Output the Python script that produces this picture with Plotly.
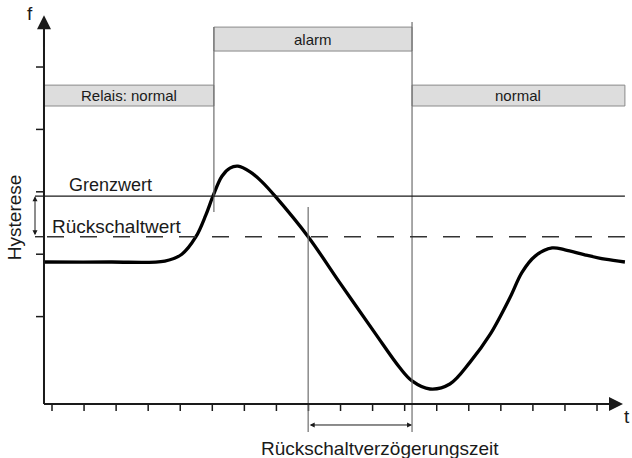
import plotly.graph_objects as go

# ---- data (time units t, signal units f) ----
time_ticks = list(range(0, 18))
f_ticks = [1, 2, 3, 4, 5]

t_curve = [-0.25, 1.81, 3.52, 4.05, 4.49, 4.80, 5.02, 5.30, 5.55, 5.80, 6.18, 6.55, 6.96,
           7.99, 8.98, 10.07, 10.85, 11.23, 11.79, 12.41, 13.04, 13.66, 14.29, 14.66,
           15.07, 15.60, 16.00, 16.62, 17.25, 17.87]
f_curve = [1.875, 1.875, 1.89, 2.00, 2.28, 2.63, 2.93, 3.25, 3.38, 3.41, 3.32, 3.16, 2.93,
           2.28, 1.54, 0.74, 0.18, -0.03, -0.16, -0.08, 0.27, 0.71, 1.31, 1.71,
           1.97, 2.10, 2.07, 1.99, 1.92, 1.875]

grenzwert = 2.93
rueckschaltwert = 2.28
alarm_start = 5.05
rueck_start = 7.99
alarm_end = 11.23

state_labels = ["Relais: normal", "alarm", "normal"]
state_t0 = [-0.25, alarm_start, alarm_end]
state_t1 = [alarm_start, alarm_end, 17.87]
state_lo = [4.375, 5.256, 4.375]
state_hi = [4.71, 5.64, 4.71]

# ---- layout geometry ----
x_min, x_max = -1.622, 18.091
y_min, y_max = -1.266, 6.074
axis_t = -0.25
axis_f = -0.4

FONT = "Liberation Sans, Arial, sans-serif"
DARK = "#1a1a1a"
GRAY = "#6e6e6e"

fig = go.Figure()
shapes = []
annotations = []

# state bars
for lab, a, b, lo, hi in zip(state_labels, state_t0, state_t1, state_lo, state_hi):
    shapes.append(dict(type="rect", xref="x", yref="y", x0=a, x1=b, y0=lo, y1=hi,
                       fillcolor="#dddddd", line=dict(color="#8a8a8a", width=1), layer="below"))
    annotations.append(dict(x=(a + b) / 2, y=(lo + hi) / 2, xref="x", yref="y", text=lab,
                            showarrow=False, font=dict(family=FONT, size=15, color=DARK)))

# vertical switching lines
shapes.append(dict(type="line", xref="x", yref="y", x0=alarm_start, x1=alarm_start,
                   y0=2.676, y1=5.64, line=dict(color=GRAY, width=1.2)))
shapes.append(dict(type="line", xref="x", yref="y", x0=alarm_end, x1=alarm_end,
                   y0=-0.85, y1=5.72, line=dict(color=GRAY, width=1.2)))
shapes.append(dict(type="line", xref="x", yref="y", x0=rueck_start, x1=rueck_start,
                   y0=-0.85, y1=2.756, line=dict(color=GRAY, width=1.2)))

# threshold lines
shapes.append(dict(type="line", xref="x", yref="y", x0=-0.53, x1=17.87,
                   y0=grenzwert, y1=grenzwert, line=dict(color=DARK, width=1.3)))
shapes.append(dict(type="line", xref="x", yref="y", x0=-0.156, x1=17.87,
                   y0=rueckschaltwert, y1=rueckschaltwert,
                   line=dict(color="#333333", width=1.3, dash="17px,16px")))
shapes.append(dict(type="line", xref="x", yref="y", x0=-0.53, x1=-0.25,
                   y0=rueckschaltwert, y1=rueckschaltwert, line=dict(color=DARK, width=1.3)))

# axis lines
shapes.append(dict(type="line", xref="x", yref="y", x0=axis_t, x1=17.6,
                   y0=axis_f, y1=axis_f, line=dict(color=DARK, width=2)))
shapes.append(dict(type="line", xref="x", yref="y", x0=axis_t, x1=axis_t,
                   y0=axis_f, y1=5.6, line=dict(color=DARK, width=2)))

# ticks
tx, ty = [], []
for t in time_ticks:
    tx += [t, t, None]
    ty += [axis_f, -0.513, None]
for f in f_ticks:
    tx += [-0.5, axis_t, None]
    ty += [f, f, None]
fig.add_trace(go.Scatter(x=tx, y=ty, mode="lines", line=dict(color=DARK, width=1.5),
                         hoverinfo="skip", showlegend=False))

# signal curve
fig.add_trace(go.Scatter(x=t_curve, y=f_curve, mode="lines",
                         line=dict(color="black", width=3.3, shape="spline", smoothing=1.0),
                         hoverinfo="skip", showlegend=False))

# axis arrowheads
annotations.append(dict(x=axis_t, y=5.83, ax=axis_t, ay=5.3, xref="x", yref="y",
                        axref="x", ayref="y", showarrow=True, arrowhead=2, arrowsize=1.4,
                        arrowwidth=2, arrowcolor=DARK, text=""))
annotations.append(dict(x=17.81, y=axis_f, ax=17.3, ay=axis_f, xref="x", yref="y",
                        axref="x", ayref="y", showarrow=True, arrowhead=2, arrowsize=1.4,
                        arrowwidth=2, arrowcolor=DARK, text=""))

# hysteresis double arrow
annotations.append(dict(x=-0.53, y=grenzwert, ax=-0.53, ay=rueckschaltwert, xref="x", yref="y",
                        axref="x", ayref="y", showarrow=True, arrowhead=2, arrowside="end+start",
                        arrowsize=1, arrowwidth=1, arrowcolor=DARK, text=""))
# delay double arrow
annotations.append(dict(x=alarm_end, y=-0.737, ax=rueck_start, ay=-0.737, xref="x", yref="y",
                        axref="x", ayref="y", showarrow=True, arrowhead=2, arrowside="end+start",
                        arrowsize=1, arrowwidth=1, arrowcolor=DARK, text=""))

# texts
txt = dict(xref="x", yref="y", showarrow=False)
annotations.append(dict(x=1.81, y=3.11, text="Grenzwert", font=dict(family=FONT, size=18, color=DARK), **txt))
annotations.append(dict(x=2.03, y=2.45, text="Rückschaltwert", font=dict(family=FONT, size=19, color=DARK), **txt))
annotations.append(dict(x=-1.18, y=2.596, text="Hysterese", textangle=-90,
                        font=dict(family=FONT, size=19, color=DARK), **txt))
annotations.append(dict(x=-0.686, y=5.85, text="f", font=dict(family=FONT, size=19, color=DARK), **txt))
annotations.append(dict(x=17.78, y=-0.593, text="t", xanchor="left",
                        font=dict(family=FONT, size=19, color=DARK), **txt))
annotations.append(dict(x=10.23, y=-1.106, text="Rückschaltverzögerungszeit",
                        font=dict(family=FONT, size=19, color=DARK), **txt))

fig.update_layout(
    width=632, height=458,
    margin=dict(l=0, r=0, t=0, b=0),
    paper_bgcolor="white", plot_bgcolor="white",
    xaxis=dict(range=[x_min, x_max], visible=False, fixedrange=True),
    yaxis=dict(range=[y_min, y_max], visible=False, fixedrange=True),
    shapes=shapes, annotations=annotations, showlegend=False,
)
fig.write_html("out.html", config={"displayModeBar": False},
               post_script="document.body.style.margin='0px';")
